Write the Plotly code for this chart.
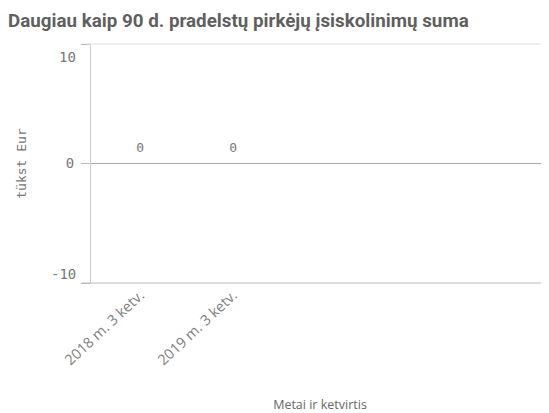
import plotly.graph_objects as go

categories = ["2018 m. 3 ketv.", "2019 m. 3 ketv."]
values = [0, 0]
labels = ["0", "0"]
y_ticks = [-10, 0, 10]

mono = "DejaVu Sans Mono"
fig = go.Figure()
fig.add_trace(go.Bar(x=categories, y=values, marker_color="rgba(0,0,0,0)", width=0.6,
                     marker_line_width=0, showlegend=False, hoverinfo="skip"))
fig.add_trace(go.Scatter(x=categories, y=values, mode="markers+text", text=labels,
                         textposition="top center",
                         marker=dict(size=11, color="rgba(0,0,0,0)"),
                         textfont=dict(family=mono, size=13, color="#777"),
                         showlegend=False, hoverinfo="skip"))

# the page body adds an 8px offset, so the figure is sized/margined to compensate
fig.update_layout(
    template="none",
    width=541, height=405,
    margin=dict(l=83, r=0, t=36, b=130),
    paper_bgcolor="white", plot_bgcolor="white",
    title=dict(text="<b>Daugiau kaip 90 d. pradelstų pirkėjų įsiskolinimų suma</b>",
               x=0.0, xanchor="left", y=0.985, yanchor="top",
               font=dict(family="Roboto", size=18.8, color="#5f5f5f")),
    xaxis=dict(type="category", range=[-0.53, 4.4], showgrid=False, automargin=False,
               tickangle=-43, tickfont=dict(family="Open Sans", size=14.5, color="#808080"),
               showline=False, zeroline=False, ticks="",
               title=dict(text="Metai ir ketvirtis", standoff=36,
                          font=dict(family="Open Sans", size=12.5, color="#666"))),
    yaxis=dict(range=[-10, 10], tickvals=y_ticks, ticktext=["", "0", ""],
               showgrid=False, zeroline=True, zerolinecolor="#aaa", zerolinewidth=1,
               showline=True, linecolor="#ccc", linewidth=1, mirror=False, automargin=False,
               ticks="outside", ticklen=9, tickcolor="#bbb", ticklabelstandoff=4,
               tickfont=dict(family=mono, size=14, color="#777"),
               title=dict(text="tükst Eur", standoff=36,
                          font=dict(family=mono, size=13, color="#777"))),
)
fig.add_annotation(xref="paper", yref="y", x=0, y=y_ticks[2], xanchor="right", yanchor="top",
                   xshift=-13, yshift=-3, text=str(y_ticks[2]), showarrow=False,
                   font=dict(family=mono, size=14, color="#777"))
fig.add_annotation(xref="paper", yref="y", x=0, y=y_ticks[0], xanchor="right", yanchor="bottom",
                   xshift=-13, yshift=-1, text=str(y_ticks[0]), showarrow=False,
                   font=dict(family=mono, size=14, color="#777"))
fig.add_shape(type="line", xref="paper", yref="paper", x0=-0.009, x1=1, y0=1, y1=1,
              line=dict(color="#ddd", width=1))
fig.add_shape(type="line", xref="paper", yref="paper", x0=-0.02, x1=1, y0=0, y1=0,
              line=dict(color="#bbb", width=1))
fig.write_html("out.html")
